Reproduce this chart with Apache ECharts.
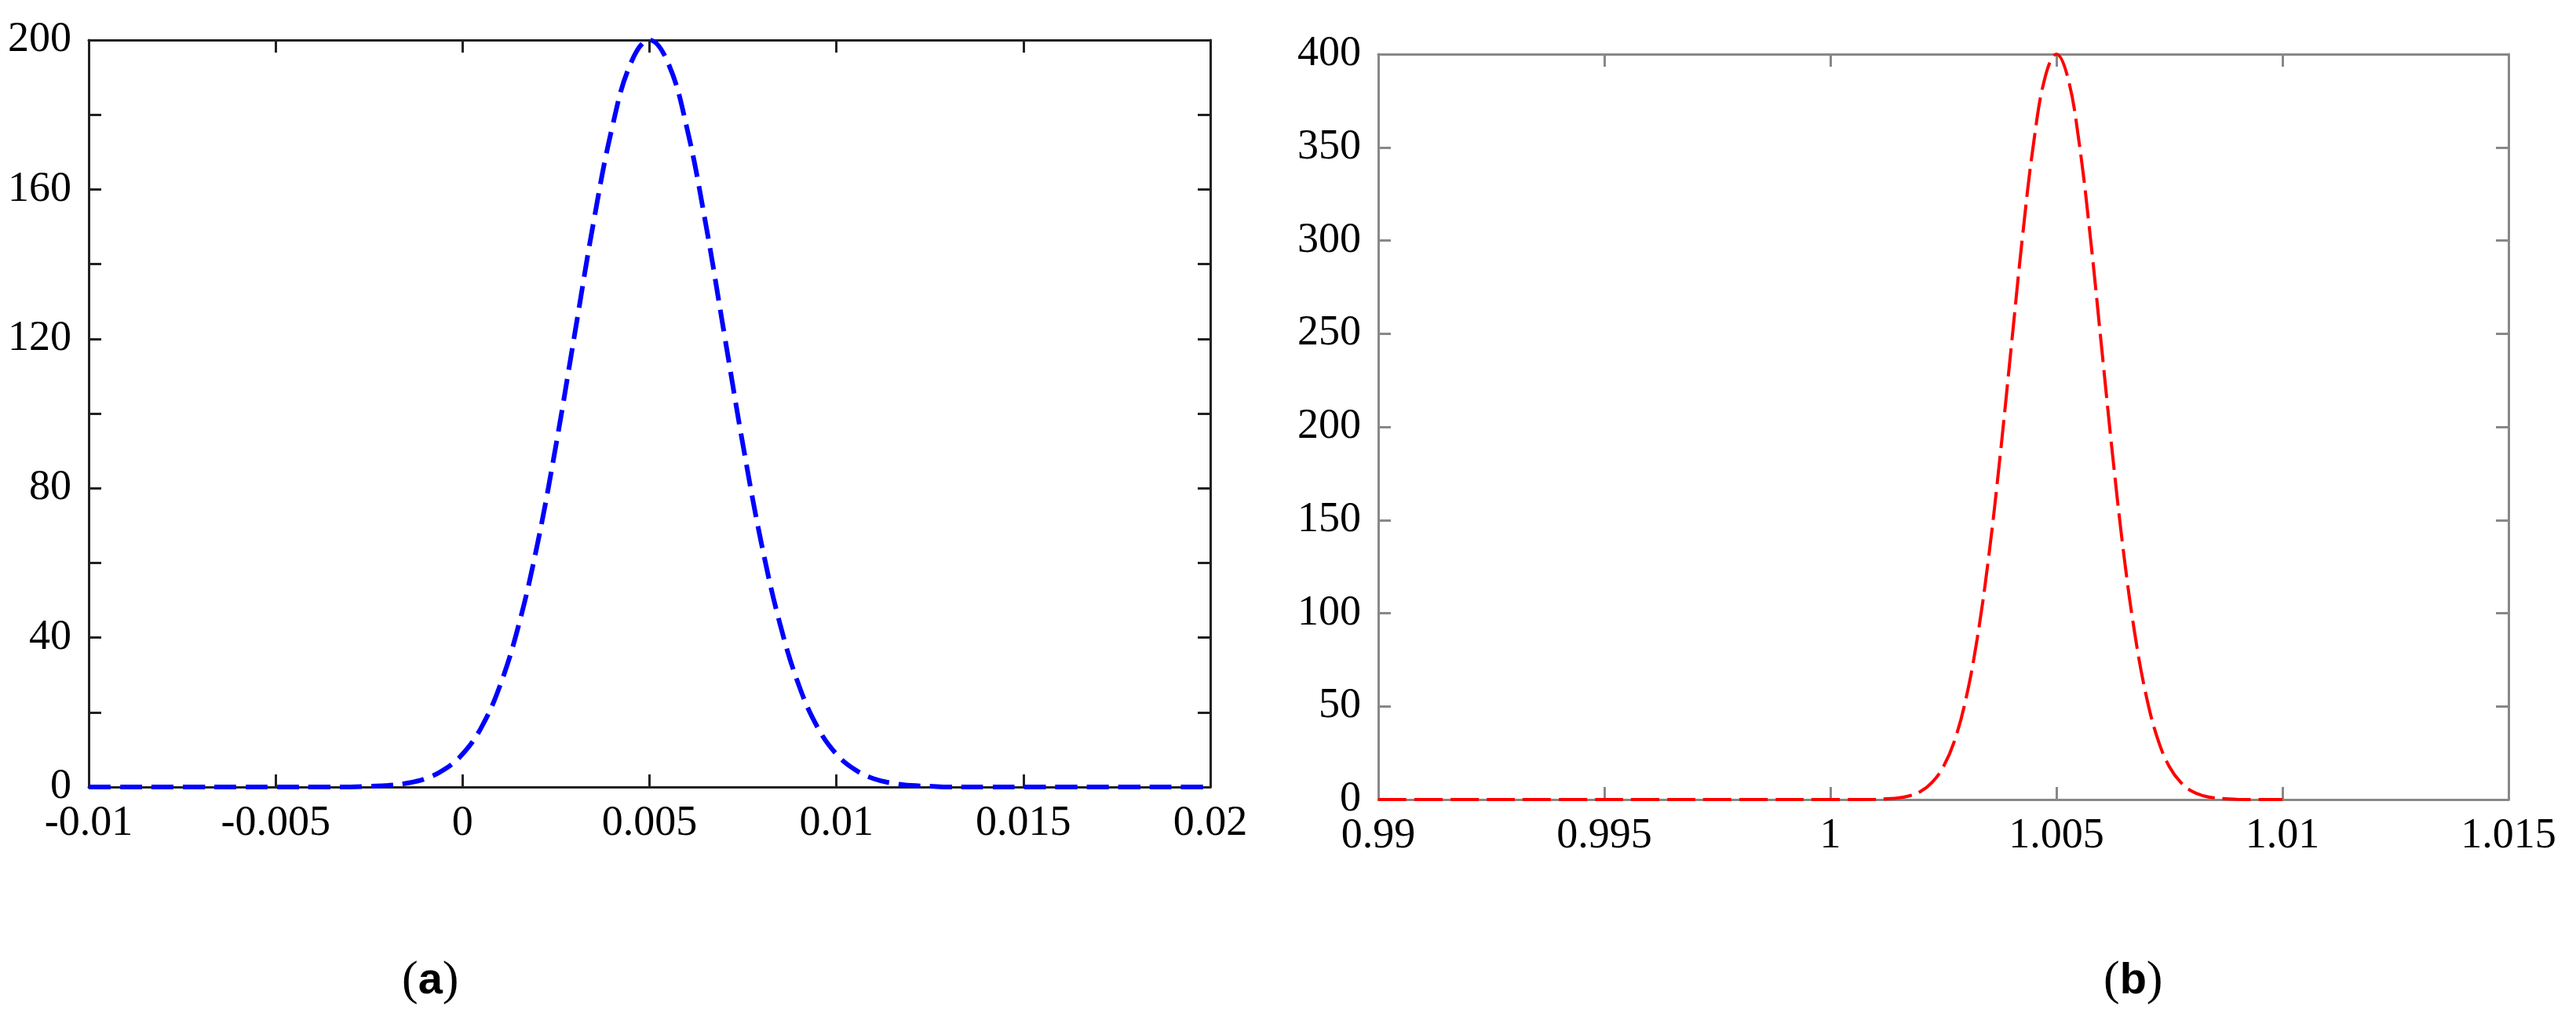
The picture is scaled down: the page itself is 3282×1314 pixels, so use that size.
<!DOCTYPE html>
<html><head><meta charset="utf-8">
<script src="https://cdn.jsdelivr.net/npm/echarts@6/dist/echarts.min.js"></script>
<style>html,body{margin:0;padding:0;background:#fff}#c{width:3282px;height:1314px}</style>
</head><body><div id="c"></div>
<script>
// Panel (a)
const xA = [-0.01,-0.009,-0.008,-0.007,-0.006,-0.005,-0.004,-0.003,-0.0025,-0.002,-0.0015,-0.001,-0.0005,0,0.0005,0.001,0.0015,0.002,0.0025,0.003,0.0035,0.004,0.0045,0.005,0.0055,0.006,0.0065,0.007,0.0075,0.008,0.0085,0.009,0.0095,0.01,0.0105,0.011,0.0115,0.012,0.0125,0.013,0.014,0.015,0.016,0.017,0.018,0.019,0.02];
const yA = [0,0,0,0,0,0,0,0,0.2,0.4,1.0,2.2,4.6,8.8,15.9,27.1,43.3,64.9,91.6,121.3,151,176.5,193.8,200,193.8,176.5,151,121.3,91.6,64.9,43.3,27.1,15.9,8.8,4.6,2.2,1.0,0.4,0.2,0,0,0,0,0,0,0,0];
const xTicksA = [-0.01,-0.005,0,0.005,0.01,0.015,0.02];
const yTicksA = [0,40,80,120,160,200];
// Panel (b)
const xB = [0.99,0.992,0.994,0.996,0.998,1,1.001,1.00125,1.0015,1.00175,1.002,1.00225,1.0025,1.00275,1.003,1.00325,1.0035,1.00375,1.004,1.00425,1.0045,1.00475,1.005,1.00525,1.0055,1.00575,1.006,1.00625,1.0065,1.00675,1.007,1.00725,1.0075,1.00775,1.008,1.00825,1.0085,1.00875,1.009,1.0095,1.01];
const yB = [0,0,0,0,0,0,0.1,0.4,0.8,2,4.4,9.2,17.6,31.8,54.2,86.6,129.8,183.2,242.6,302,353,387.6,400,387.6,353,302,242.6,183.2,129.8,86.6,54.2,31.8,17.6,9.2,4.4,2,0.8,0.4,0.1,0,0];
const xTicksB = [0.99,0.995,1,1.005,1.01,1.015];
const yTicksB = [0,50,100,150,200,250,300,350,400];

const font = 'Liberation Serif';
const fs = 54;
function axes(grid, min, max, interval, labels, color, minor, isX){
  return {type:'value', gridIndex:grid, min, max, interval,
    axisLine:{show:true,onZero:false,lineStyle:{color,width:3}},
    axisTick:{show:true,inside:true,length:16,lineStyle:{color,width:3}},
    minorTick:{show:minor,splitNumber:2,length:16,lineStyle:{color,width:3}},
    splitLine:{show:false},
    axisLabel:{show:labels,color:'#000',fontFamily:font,fontSize:fs,margin:isX?20:22,
      formatter:v=>String(+v.toFixed(4))}};
}
const chart = echarts.init(document.getElementById('c'));
const gA = {left:113, top:51, right:1740, bottom:311};
const gB = {left:1756, top:69, right:86, bottom:295};
const xAxis = [
  axes(0,-0.01,0.02,0.005,true,'#222',false,true),
  Object.assign(axes(0,-0.01,0.02,0.005,false,'#222',false,true),{position:'top'}),
  axes(1,0.99,1.015,0.005,true,'#888',false,true),
  Object.assign(axes(1,0.99,1.015,0.005,false,'#888',false,true),{position:'top'})
];
const yAxis = [
  axes(0,0,200,40,true,'#222',true,false),
  Object.assign(axes(0,0,200,40,false,'#222',true,false),{position:'right'}),
  axes(1,0,400,50,true,'#888',false,false),
  Object.assign(axes(1,0,400,50,false,'#888',false,false),{position:'right'})
];
chart.setOption({
  animation:false,
  grid:[gA,gB],
  xAxis, yAxis,
  series:[
    {type:'line',xAxisIndex:0,yAxisIndex:0,data:xA.map((x,i)=>[x,yA[i]]),smooth:0.4,showSymbol:false,
     lineStyle:{color:'#0000ff',width:6,type:[28,12]},z:1},
    {type:'line',xAxisIndex:2,yAxisIndex:2,data:xB.map((x,i)=>[x,yB[i]]),smooth:0.4,showSymbol:false,
     lineStyle:{color:'#ff0000',width:4,type:[36,10]},z:1}
  ],
  graphic:[
    {type:'text',left:512,top:1220,style:{text:'({a|a})',fontFamily:'Liberation Serif',fontSize:62,fill:'#000',
      rich:{a:{fontWeight:'bold',fontFamily:'Liberation Sans',fontSize:56}}}},
    {type:'text',left:2680,top:1220,style:{text:'({a|b})',fontFamily:'Liberation Serif',fontSize:62,fill:'#000',
      rich:{a:{fontWeight:'bold',fontFamily:'Liberation Sans',fontSize:56}}}}
  ]
});
</script></body></html>
